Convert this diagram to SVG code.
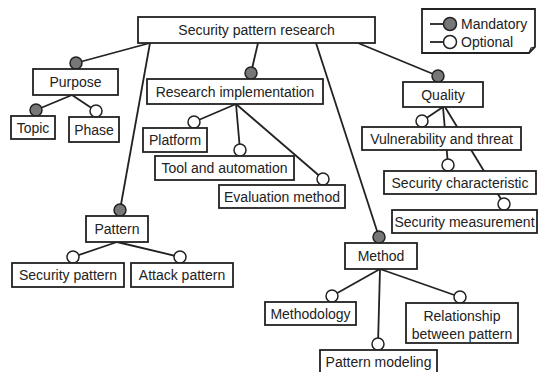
<svg xmlns="http://www.w3.org/2000/svg" width="539" height="372" viewBox="0 0 539 372">
<style>
.box{fill:#fff;stroke:#222;stroke-width:1.8}
.ln{stroke:#222;stroke-width:1.8;fill:none}
.m{fill:#777;stroke:#222;stroke-width:1.5}
.o{fill:#fff;stroke:#222;stroke-width:1.5}
text{font-family:"Liberation Sans",Arial,sans-serif;font-size:14px;fill:#222;text-anchor:middle}
</style>
<rect width="539" height="372" fill="#fff"/>
<g id="connectors">
<line class="ln" x1="150" y1="43" x2="76" y2="63"/>
<line class="ln" x1="150" y1="43" x2="120" y2="210"/>
<line class="ln" x1="258" y1="43" x2="251" y2="73"/>
<line class="ln" x1="358" y1="43" x2="438" y2="76"/>
<line class="ln" x1="316" y1="43" x2="379" y2="237"/>
<line class="ln" x1="72" y1="95" x2="36" y2="110"/>
<line class="ln" x1="72" y1="95" x2="96" y2="111"/>
<line class="ln" x1="236" y1="104" x2="194" y2="122"/>
<line class="ln" x1="236" y1="104" x2="240" y2="150"/>
<line class="ln" x1="236" y1="104" x2="323" y2="179"/>
<line class="ln" x1="443" y1="107" x2="422" y2="121"/>
<line class="ln" x1="443" y1="107" x2="448" y2="165"/>
<line class="ln" x1="445" y1="107" x2="504" y2="204"/>
<line class="ln" x1="117" y1="242" x2="73" y2="257"/>
<line class="ln" x1="117" y1="242" x2="180" y2="257"/>
<line class="ln" x1="380" y1="269" x2="332" y2="296"/>
<line class="ln" x1="380" y1="269" x2="378" y2="344"/>
<line class="ln" x1="380" y1="269" x2="460" y2="297"/>
</g>
<g id="root"><rect class="box" x="138" y="17" width="237" height="26"/><text x="256.5" y="35">Security pattern research</text></g>
<g id="purpose"><circle class="m" cx="76" cy="63" r="6"/><rect class="box" x="33" y="69" width="85" height="26"/><text x="75.5" y="87">Purpose</text></g>
<g id="topic"><circle class="m" cx="36" cy="110" r="6"/><rect class="box" x="11" y="116" width="44" height="23"/><text x="33" y="132.5">Topic</text></g>
<g id="phase"><circle class="o" cx="96" cy="111" r="6"/><rect class="box" x="69" y="117" width="50" height="25"/><text x="94" y="134.5">Phase</text></g>
<g id="research"><circle class="m" cx="251" cy="73" r="6"/><rect class="box" x="147" y="79" width="176" height="25"/><text x="235" y="96.5">Research implementation</text></g>
<g id="platform"><circle class="o" cx="194" cy="122" r="6"/><rect class="box" x="143" y="128" width="64" height="24"/><text x="175" y="145">Platform</text></g>
<g id="tool"><circle class="o" cx="240" cy="150" r="6"/><rect class="box" x="155" y="156" width="139" height="24"/><text x="224.5" y="173">Tool and automation</text></g>
<g id="evaluation"><circle class="o" cx="323" cy="179" r="6"/><rect class="box" x="219" y="185" width="126" height="23"/><text x="282" y="201.5">Evaluation method</text></g>
<g id="quality"><circle class="m" cx="438" cy="76" r="6"/><rect class="box" x="403" y="82" width="80" height="25"/><text x="443" y="99.5">Quality</text></g>
<g id="vulnerability"><circle class="o" cx="422" cy="121" r="6"/><rect class="box" x="362" y="127" width="159" height="23"/><text x="441.5" y="143.5">Vulnerability and threat</text></g>
<g id="characteristic"><circle class="o" cx="448" cy="165" r="6"/><rect class="box" x="384" y="171" width="152" height="23"/><text x="460" y="187.5">Security characteristic</text></g>
<g id="measurement"><circle class="o" cx="504" cy="204" r="6"/><rect class="box" x="392" y="210" width="145" height="23"/><text x="464.5" y="226.5">Security measurement</text></g>
<g id="pattern"><circle class="m" cx="120" cy="210" r="6"/><rect class="box" x="86" y="216" width="62" height="26"/><text x="117" y="234">Pattern</text></g>
<g id="secpattern"><circle class="o" cx="73" cy="257" r="6"/><rect class="box" x="12" y="263" width="112" height="24"/><text x="68" y="280">Security pattern</text></g>
<g id="attack"><circle class="o" cx="180" cy="257" r="6"/><rect class="box" x="131" y="263" width="102" height="24"/><text x="182" y="280">Attack pattern</text></g>
<g id="method"><circle class="m" cx="379" cy="237" r="6"/><rect class="box" x="345" y="243" width="72" height="26"/><text x="381" y="261">Method</text></g>
<g id="methodology"><circle class="o" cx="332" cy="296" r="6"/><rect class="box" x="265" y="302" width="91" height="23"/><text x="310.5" y="318.5">Methodology</text></g>
<g id="modeling"><circle class="o" cx="378" cy="344" r="6"/><rect class="box" x="320" y="350" width="117" height="25"/><text x="378.5" y="367">Pattern modeling</text></g>
<g id="relationship"><circle class="o" cx="460" cy="297" r="6"/><rect class="box" x="406" y="303" width="112" height="40"/><text x="462" y="321">Relationship</text><text x="462" y="339">between pattern</text></g>
<g id="legend">
<path class="box" d="M422 9 H535 V47 L529 53 H422 Z"/>
<path d="M529 53 L531 48 L535 47" fill="none" stroke="#222" stroke-width="1.2"/>
<line class="ln" x1="430" y1="24" x2="443" y2="24"/>
<circle class="m" cx="450" cy="24" r="6.5"/>
<line class="ln" x1="430" y1="42" x2="443" y2="42"/>
<circle class="o" cx="450" cy="42" r="6.5"/>
<text x="461" y="29" style="text-anchor:start">Mandatory</text>
<text x="461" y="47" style="text-anchor:start">Optional</text>
</g>
</svg>
